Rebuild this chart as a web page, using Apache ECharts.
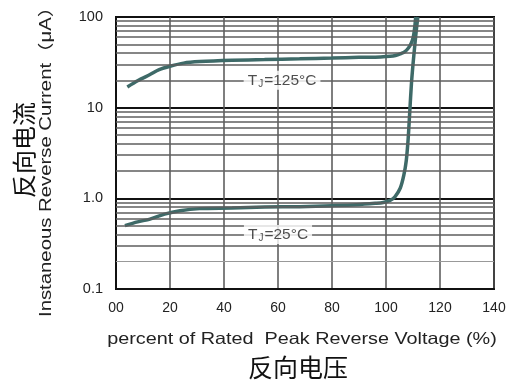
<!DOCTYPE html>
<html><head><meta charset="utf-8">
<script src="https://cdn.jsdelivr.net/npm/echarts@6/dist/echarts.min.js"></script>
<style>html,body{margin:0;padding:0;background:#fff}#c{width:512px;height:380px}</style>
</head><body><div id="c"></div>
<script>
const xTickLabels = ['00','20','40','60','80','100','120','140'];
const yTickValues = [0.1, 1, 10, 100];
const yTickLabels = ['0.1', '1.0', '10', '100'];
const minorGridValues = [0.2,0.3,0.4,0.5,0.6,0.7,0.8,0.9,2,3,4,5,6,7,8,9,20,30,40,50,60,70,80,90];
const curve125 = [[4.2,16.9],[8,19.8],[12.6,23.2],[16,26.2],[20,28.6],[25,31.0],[31,32.2],[43,33.3],[55,33.9],[68,34.6],[80,35.3],[90,35.9],[98,36.3],[101.5,36.8],[103.5,37.6],[105.5,39.5],[107,41.5],[108.3,45.5],[109.3,51],[110.1,60],[110.6,75],[111.0,100]];
const curve25 = [[3.3,0.50],[8,0.55],[12.6,0.59],[18,0.67],[23.7,0.73],[31,0.77],[43,0.78],[55,0.80],[68,0.81],[80,0.83],[89,0.85],[96,0.88],[99,0.90],[101.5,0.95],[103.3,1.04],[105.3,1.3],[106.6,1.8],[107.5,2.6],[108.2,4.5],[108.8,9],[109.4,18],[110,30],[110.7,50],[111.3,75],[111.8,100]];
const label125 = {x: 61.5, y: 20, name: 'T{sub|J}=125°C'};
const label25 = {x: 60, y: 0.4, name: 'T{sub|J}=25°C'};

const chart = echarts.init(document.getElementById('c'), null, {renderer: 'canvas'});
const FONT = "'Liberation Sans', Arial, sans-serif";
const curveColor = '#3e6a68';
const richLabel = {
  show: true, position: 'inside', color: '#222', fontSize: 15.5, fontFamily: FONT,
  backgroundColor: '#fff', padding: [1, 4, 1, 4],
  formatter: p => p.data.name,
  rich: { sub: { fontSize: 10, fontFamily: FONT, color: '#222', padding: [7, 1, 0, 1] } }
};
chart.setOption({
  animation: false,
  grid: { left: 116, right: 18, top: 17, bottom: 91, show: true, borderColor: '#111', borderWidth: 2, backgroundColor: '#fff' },
  xAxis: {
    type: 'value', min: 0, max: 140, interval: 20,
    axisLine: { show: true, lineStyle: { color: '#111', width: 2 } },
    axisTick: { show: false },
    axisLabel: { margin: 12, color: '#222', fontSize: 14, fontFamily: FONT,
      formatter: v => xTickLabels[Math.round(v / 20)] },
    splitLine: { show: true, lineStyle: { color: '#555', width: 1.5 } }
  },
  yAxis: {
    type: 'log', logBase: 10, min: 0.1, max: 100,
    axisLine: { show: true, lineStyle: { color: '#111', width: 2 } },
    axisTick: { show: false },
    axisLabel: { margin: 13, color: '#222', fontSize: 14.5, fontFamily: FONT,
      formatter: v => { const i = yTickValues.findIndex(t => Math.abs(Math.log10(t) - Math.log10(v)) < 1e-6); return i >= 0 ? yTickLabels[i] : ''; } },
    splitLine: { show: true, lineStyle: { color: '#111', width: 2 } }
  },
  series: [
    { type: 'line', data: [], z: 1, silent: true,
      markLine: { silent: true, symbol: ['none', 'none'], label: { show: false },
        lineStyle: { type: 'solid' },
        data: minorGridValues.map(v => ({ yAxis: v, lineStyle: { color: v === 0.2 ? '#999' : '#5e5e5e', width: v === 0.2 ? 1 : 1.5, type: 'solid' } })) } },
    { type: 'line', name: '125', data: curve125, smooth: 0.3, showSymbol: false, z: 3,
      lineStyle: { color: curveColor, width: 3.5 }, itemStyle: { color: curveColor } },
    { type: 'line', name: '25', data: curve25, smooth: 0.3, showSymbol: false, z: 3,
      lineStyle: { color: curveColor, width: 3.5 }, itemStyle: { color: curveColor } },
    { type: 'scatter', z: 5, symbolSize: 0, silent: true,
      data: [{ value: [label125.x, label125.y], name: label125.name }, { value: [label25.x, label25.y], name: label25.name }],
      label: richLabel }
  ],
  graphic: [
    { type: 'text', x: 302, y: 339, scaleX: 1.2, style: { text: 'percent of Rated  Peak Reverse Voltage (%)', font: "16.5px 'Liberation Sans', Arial, sans-serif", fill: '#222', textAlign: 'center', textVerticalAlign: 'middle' } },
    { type: 'text', x: 298, y: 367, style: { text: '反向电压', font: "25px 'Noto Sans CJK SC', sans-serif", fill: '#111', textAlign: 'center', textVerticalAlign: 'middle' } },
    { type: 'text', x: 24, y: 150, rotation: Math.PI / 2, style: { text: '反向电流', font: "24px 'Noto Sans CJK SC', sans-serif", fill: '#111', textAlign: 'center', textVerticalAlign: 'middle' } },
    { type: 'text', x: 47, y: 157, rotation: Math.PI / 2, scaleX: 1.27, style: { text: 'Instaneous Reverse Current（μA）', font: "16px 'Liberation Sans', 'Noto Sans CJK SC', sans-serif", fill: '#222', textAlign: 'center', textVerticalAlign: 'middle' } }
  ]
});
</script></body></html>
